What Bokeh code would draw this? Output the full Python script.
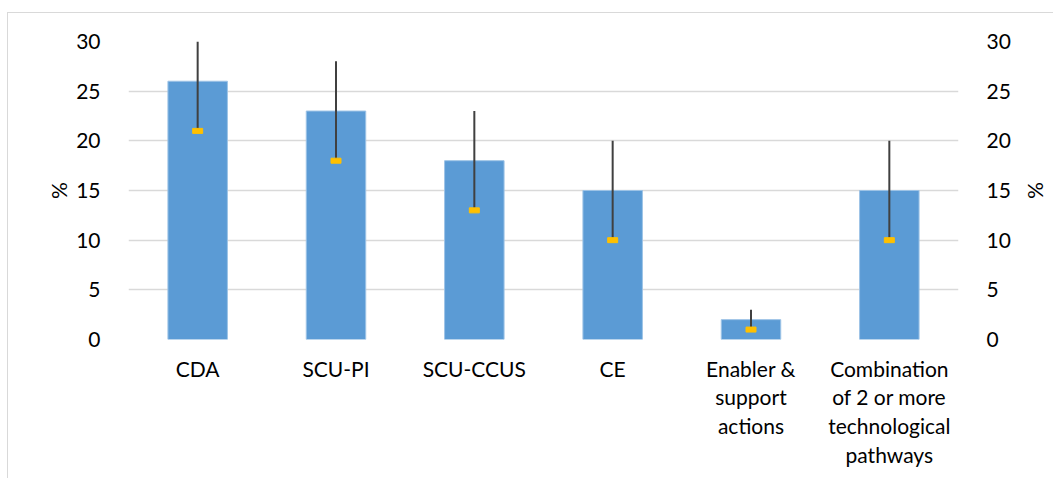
from bokeh.plotting import figure
from bokeh.models import FactorRange, Range1d, LinearAxis, FixedTicker, ColumnDataSource
from bokeh.embed import file_html
from bokeh.resources import INLINE

categories = ["CDA", "SCU-PI", "SCU-CCUS", "CE",
              "Enabler &\nsupport\nactions",
              "Combination\nof 2 or more\ntechnological\npathways"]
share = [26, 23, 18, 15, 2, 15]
low = [21, 18, 13, 10, 1, 10]
high = [30, 28, 23, 20, 3, 20]
y_ticks = [0, 5, 10, 15, 20, 25, 30]

FONT = "Lato"
FS = "21px"

src = ColumnDataSource(dict(cat=categories, share=share, low=low, high=high))

p = figure(x_range=FactorRange(*categories), y_range=Range1d(0, 30),
           frame_width=830, frame_height=298,
           min_border_left=120, min_border_right=95, min_border_top=28, min_border_bottom=139,
           output_backend="svg", toolbar_location=None,
           background_fill_color="white", border_fill_color="white")
p.outline_line_color = None
p.styles = {"border-top": "1.5px solid #d9d9d9", "border-left": "1.5px solid #d9d9d9",
            "margin-top": "12px", "margin-left": "7px"}

p.vbar(x="cat", top="share", bottom=0, width=0.43, source=src,
       fill_color="#5B9BD5", line_color="#9DC3E6", line_width=1)
p.segment(x0="cat", y0="low", x1="cat", y1="high", source=src,
          line_color="#404040", line_width=2)
p.rect(x="cat", y="low", width=10, height=5, width_units="screen", height_units="screen",
       source=src, fill_color="#FFC000", line_color="#FFC000")

p.xgrid.grid_line_color = None
p.ygrid.grid_line_color = "#d9d9d9"
p.ygrid.grid_line_width = 1.5
p.ygrid.ticker = FixedTicker(ticks=y_ticks)

def style_y(ax, standoff):
    ax.ticker = FixedTicker(ticks=y_ticks)
    ax.axis_line_color = None
    ax.major_tick_line_color = None
    ax.minor_tick_line_color = None
    ax.major_label_text_font = FONT
    ax.major_label_text_font_size = FS
    ax.major_label_text_color = "#000000"
    ax.major_label_standoff = 22
    ax.axis_label = "%"
    ax.axis_label_text_font = FONT
    ax.axis_label_text_font_size = FS
    ax.axis_label_text_font_style = "normal"
    ax.axis_label_text_color = "#000000"
    ax.axis_label_standoff = standoff

style_y(p.yaxis[0], 2)
right = LinearAxis(y_range_name="default")
style_y(right, 10)
p.add_layout(right, "right")

xa = p.xaxis[0]
xa.axis_line_color = None
xa.major_tick_line_color = None
xa.minor_tick_line_color = None
xa.major_label_text_font = FONT
xa.major_label_text_font_size = FS
xa.major_label_text_color = "#000000"
xa.major_label_standoff = 10
xa.major_label_text_line_height = 1.15

open("out.html", "w").write(file_html(p, INLINE))
